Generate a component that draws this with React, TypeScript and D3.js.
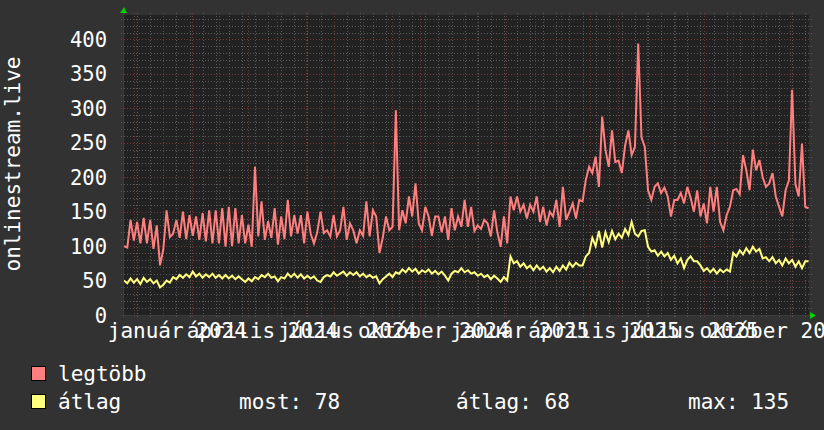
import React from 'react';
import * as d3 from 'd3';

// ---- data (half-week samples starting 2023-11-20, every 3.5 days) ----
const startDate = new Date(Date.UTC(2023, 10, 20));
const stepDays = 3.5;

const legtobb = [
  100, 98, 138, 108, 135, 104, 141, 104, 138, 96, 130, 72, 95, 152, 113, 118, 138, 112, 150, 110,
  145, 115, 143, 109, 148, 107, 152, 104, 152, 104, 155, 99, 157, 100, 155, 104, 145, 104, 131, 99,
  215, 114, 165, 109, 136, 112, 155, 102, 143, 110, 167, 114, 145, 118, 145, 104, 150, 118, 104, 120,
  150, 119, 123, 114, 145, 114, 123, 157, 109, 133, 123, 104, 123, 115, 165, 114, 152, 143, 90, 112,
  143, 123, 128, 297, 123, 152, 133, 172, 143, 191, 133, 123, 157, 143, 115, 143, 143, 120, 143, 109,
  155, 123, 143, 128, 167, 128, 157, 122, 130, 125, 138, 133, 114, 152, 120, 99, 143, 104, 172, 152,
  172, 150, 160, 140, 160, 150, 172, 135, 157, 130, 150, 143, 167, 128, 186, 138, 150, 162, 140, 167,
  165, 196, 215, 206, 230, 186, 288, 240, 215, 268, 222, 224, 206, 246, 268, 232, 244, 394, 258, 244,
  181, 167, 186, 191, 177, 185, 172, 143, 167, 167, 177, 162, 186, 170, 150, 181, 143, 162, 133, 186,
  150, 186, 135, 123, 145, 157, 181, 183, 175, 232, 210, 181, 240, 210, 225, 200, 186, 191, 206, 172,
  157, 143, 181, 195, 327, 190, 172, 249, 157, 155,
];

const atlag = [
  50, 46, 53, 47, 52, 45, 54, 48, 52, 46, 50, 40, 44, 50, 47, 55, 52, 58, 54, 59,
  55, 63, 56, 60, 54, 59, 55, 60, 54, 58, 53, 58, 53, 57, 52, 56, 52, 48, 53, 49,
  55, 52, 58, 55, 60, 54, 56, 49, 55, 53, 60, 55, 60, 54, 59, 53, 57, 53, 56, 50,
  48, 55, 58, 56, 62, 57, 60, 63, 57, 62, 58, 62, 56, 60, 55, 58, 54, 56, 46, 52,
  56, 60, 55, 62, 60, 66, 62, 68, 63, 67, 60, 65, 62, 66, 60, 64, 59, 63, 57, 50,
  60, 64, 62, 68, 62, 65, 60, 62, 57, 60, 55, 58, 52, 57, 53, 48, 55, 50, 85, 75,
  78, 70, 75, 68, 72, 65, 72, 66, 70, 63, 68, 62, 70, 64, 72, 66, 76, 70, 76, 72,
  72, 85, 90, 112, 100, 122, 98, 120, 106, 122, 110, 118, 112, 125, 116, 135, 118, 114, 122, 123,
  99, 92, 94, 86, 92, 85, 90, 80, 86, 75, 82, 68, 80, 85, 78, 78, 72, 64, 68, 62,
  67, 60, 66, 62, 66, 63, 90, 85, 94, 88, 97, 90, 99, 92, 96, 82, 84, 78, 84, 75,
  80, 72, 82, 75, 80, 70, 78, 68, 78, 78,
];

const yTicks = [0, 50, 100, 150, 200, 250, 300, 350, 400];
const xLabels = [
  'január 2024', 'április 2024', 'július 2024', 'október 2024',
  'január 2025', 'április 2025', 'július 2025', 'október 2025',
];
const xLabelDates = [
  '2024-01-16', '2024-04-16', '2024-07-16', '2024-10-16',
  '2025-01-16', '2025-04-16', '2025-07-16', '2025-10-16',
];
const legendNames = ['legtöbb', 'átlag'];
const legendColors = ['#ff7f7f', '#ffff7f'];
const statLabels = ['most: 78', 'átlag: 68', 'max: 135'];
const yTitle = 'onlinestream.live';

// ---- layout ----
const W = 824, H = 430;
const L = 124, R = 809, T = 15, B = 315;
const FONT = '"DejaVu Sans Mono", monospace';

export default function App() {
  const x = d3.scaleUtc()
    .domain([new Date(Date.UTC(2023, 10, 20)), new Date(Date.UTC(2025, 10, 21))])
    .range([L, R]);
  const y = d3.scaleLinear().domain([0, 400]).range([B, 39.4]);
  const dateAt = (i: number) => d3.utcHour.offset(startDate, Math.round(i * stepDays * 24));

  const line = d3.line<number>()
    .x((_, i) => x(dateAt(i)))
    .y((d) => y(d))
    .curve(d3.curveLinear);

  const minorY = d3.range(0, 440, 10).filter((v) => v % 50 !== 0);
  const majorY = d3.range(50, 440, 50);
  const [d0, d1] = x.domain();
  const minorX: Date[] = [];
  for (let d = new Date(Date.UTC(2023, 11, 4)); d < d1; d = d3.utcDay.offset(d, 14)) minorX.push(d);
  const majorX = d3.utcMonth.range(d3.utcMonth.ceil(d0), d1);

  const minorCol = '#5a5a5a';
  const majorCol = '#743838';

  return (
    <svg width={W} height={H} style={{ position: 'absolute', left: 0, top: 0, background: '#323232' }}>
      <rect x={0} y={0} width={W} height={H} fill="#323232" />
      <rect x={L} y={T} width={R - L} height={B - T} fill="#222222" />
      <defs>
        <clipPath id="plotclip">
          <rect x={L} y={T} width={R - L} height={B - T} />
        </clipPath>
      </defs>
      {/* minor grid */}
      {minorY.map((v) => (
        <line key={'my' + v} x1={L - 3} x2={R + 3} y1={Math.round(y(v)) + 0.5} y2={Math.round(y(v)) + 0.5}
          stroke={minorCol} strokeWidth={1} strokeDasharray="1,2" />
      ))}
      {minorX.map((d, i) => (
        <line key={'mx' + i} x1={Math.round(x(d)) + 0.5} x2={Math.round(x(d)) + 0.5} y1={T - 2} y2={B + 3}
          stroke={minorCol} strokeWidth={1} strokeDasharray="1,2" />
      ))}
      {/* major grid */}
      {majorY.map((v) => (
        <line key={'My' + v} x1={L - 3} x2={R + 3} y1={Math.round(y(v)) + 0.5} y2={Math.round(y(v)) + 0.5}
          stroke={majorCol} strokeWidth={1} strokeDasharray="1,2" />
      ))}
      {majorX.map((d, i) => (
        <line key={'Mx' + i} x1={Math.round(x(d)) + 0.5} x2={Math.round(x(d)) + 0.5} y1={T - 2} y2={B + 3}
          stroke={majorCol} strokeWidth={1} strokeDasharray="1,2" />
      ))}
      {/* axes */}
      <line x1={L - 0.5} x2={L - 0.5} y1={T - 4} y2={B + 3} stroke="#3c3c3c" strokeWidth={1} />
      <line x1={L - 3} x2={R + 3} y1={B + 0.5} y2={B + 0.5} stroke="#3c3c3c" strokeWidth={1} />
      <path d={`M${L - 4},${T - 2} L${L},${T - 8} L${L + 3},${T - 2} Z`} fill="#00d000" />
      <path d={`M${R + 1},${B - 3} L${R + 7},${B + 0.5} L${R + 1},${B + 4} Z`} fill="#00d000" />
      {/* series */}
      <g clipPath="url(#plotclip)">
        <path d={line(legtobb) || ''} fill="none" stroke={legendColors[0]} strokeWidth={2} strokeLinejoin="miter" />
        <path d={line(atlag) || ''} fill="none" stroke={legendColors[1]} strokeWidth={2} strokeLinejoin="miter" />
      </g>
      {/* y labels */}
      {yTicks.map((v) => (
        <text key={'yl' + v} x={107} y={y(v) + 7.5} textAnchor="end" fill="#ffffff"
          fontFamily={FONT} fontSize={20.5}>{v}</text>
      ))}
      <text transform={`translate(20,164) rotate(-90)`} textAnchor="middle" fill="#ffffff"
        fontFamily={FONT} fontSize={21}>{yTitle}</text>
      {/* x labels */}
      {xLabels.map((s, i) => (
        <text key={'xl' + i} x={x(new Date(xLabelDates[i] + 'T00:00:00Z'))} y={338} textAnchor="middle"
          fill="#ffffff" fontFamily={FONT} fontSize={21}>{s}</text>
      ))}
      {/* legend */}
      {legendNames.map((n, i) => (
        <g key={'lg' + i}>
          <rect x={31.5} y={366.5 + i * 28} width={14} height={14} fill={legendColors[i]} stroke="#000" strokeWidth={1} />
          <text x={58} y={381 + i * 28} fill="#ffffff" fontFamily={FONT} fontSize={21}>{n}</text>
        </g>
      ))}
      {statLabels.map((s, i) => (
        <text key={'st' + i} x={[239, 456, 688][i]} y={409} fill="#ffffff" fontFamily={FONT} fontSize={21}>{s}</text>
      ))}
    </svg>
  );
}
